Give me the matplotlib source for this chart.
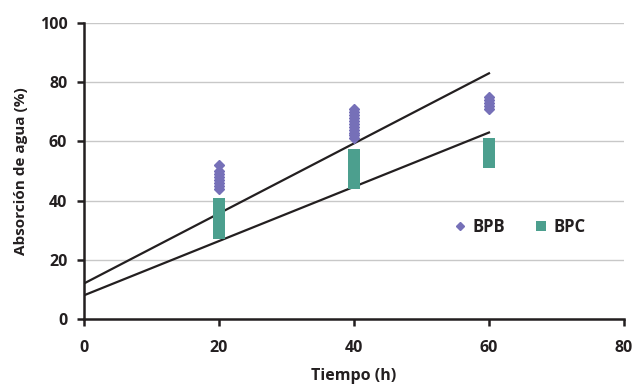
import numpy as np
import matplotlib.pyplot as plt

plt.rcParams['font.family'] = ['Open Sans', 'DejaVu Sans']

# data
bpb_x = [20] * 8 + [40] * 11 + [60] * 5
bpb_y = [44, 45, 46, 47, 48, 49, 50, 52,
         61, 62, 63, 64, 65, 66, 67, 68, 69, 70, 71,
         71, 72, 73, 74, 75]
bpc_x = [20] * 6 + [40] * 6 + [60] * 4
bpc_y = [29, 31, 33, 35, 37, 39,
         46, 48, 50, 52, 54, 55.5,
         53, 55, 57, 59]

fit_x = [0, 60]
fit_bpb = [12, 83]
fit_bpc = [8, 63]

purple = '#7670b8'
teal = '#4c9f8e'

fig = plt.figure(figsize=(6.34, 3.84), dpi=100)
ax = fig.add_axes([0.1325, 0.1693, 0.8517, 0.7708])

ax.plot(fit_x, fit_bpb, color='#231f20', lw=1.6, zorder=2)
ax.plot(fit_x, fit_bpc, color='#231f20', lw=1.6, zorder=2)

ax.plot(bpb_x, bpb_y, 'D', color=purple, ms=5, mec=purple, ls='none', label='BPB', zorder=3)
ax.plot(bpc_x, bpc_y, 's', color=teal, ms=9.2, mec=teal, mew=0, ls='none', label='BPC', zorder=3)

ax.set_xlim(0, 80)
ax.set_ylim(0, 100)
ax.set_xticks([0, 20, 40, 60, 80])
ax.set_yticks([0, 20, 40, 60, 80, 100])
ax.yaxis.grid(True, color='#c8c8c8', lw=1)
ax.set_axisbelow(True)

for s in ['top', 'right']:
    ax.spines[s].set_visible(False)
for s in ['left', 'bottom']:
    ax.spines[s].set_linewidth(1.8)
    ax.spines[s].set_color('#231f20')

ax.tick_params(axis='both', direction='out', length=5, width=1.8, color='#231f20',
               labelsize=11.5)
ax.tick_params(axis='x', pad=10)
ax.tick_params(axis='y', pad=7)
for lab in ax.get_xticklabels() + ax.get_yticklabels():
    lab.set_fontweight('bold')
    lab.set_color('#231f20')

ax.set_xlabel('Tiempo (h)', fontsize=11.5, fontweight='bold', color='#231f20', labelpad=9)
ax.set_ylabel('Absorción de agua (%)', fontsize=11, fontweight='bold', color='#231f20', labelpad=8)

leg = ax.legend(loc='center', bbox_to_anchor=(0.805, 0.31), ncol=2, frameon=False,
                handletextpad=0.3, columnspacing=1.6, handlelength=1.0,
                markerscale=0.8,
                prop={'weight': 'bold', 'size': 12})
for t in leg.get_texts():
    t.set_color('#231f20')

fig.savefig('out.png', dpi=100)
